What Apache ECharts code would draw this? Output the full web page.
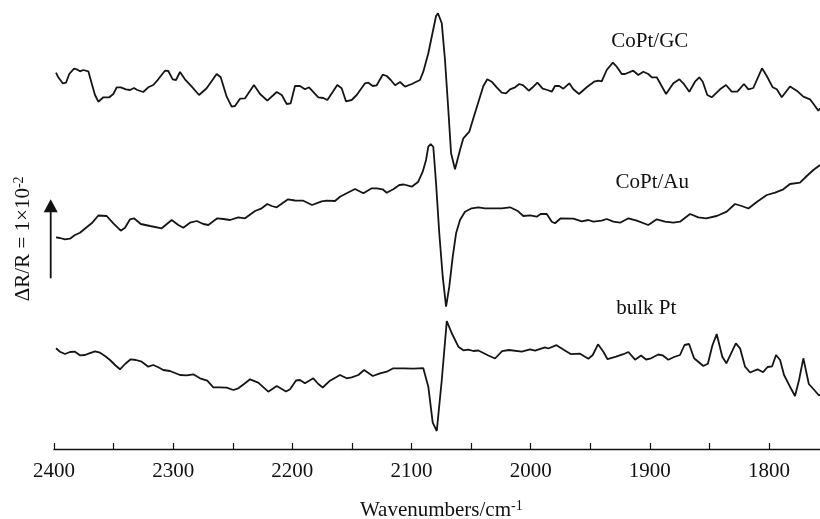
<!DOCTYPE html>
<html>
<head>
<meta charset="utf-8">
<script src="https://cdn.jsdelivr.net/npm/echarts@6/dist/echarts.min.js"></script>
<style>
html, body { margin: 0; padding: 0; background: #fff; }
#chart { width: 820px; height: 519px; }
</style>
</head>
<body>
<div id="chart"></div>
<script>
// spectra: [wavenumber / cm-1, offset signal (a.u.)]
var coptGC = [[2398.3,376.3],[2396.4,371.7],[2392.7,365.7],[2389.9,366.3],[2387.2,375],[2383.2,380.3],[2381,379.7],[2378.2,377.7],[2375.4,379],[2371.2,377.7],[2368.4,365.7],[2365.6,354],[2362.8,347.3],[2358.6,351.7],[2353.6,351.7],[2350.2,355],[2347.4,361.7],[2344,361.7],[2339.6,359.7],[2336.2,359],[2332.9,361],[2330.1,359],[2325.1,357],[2320.9,361.7],[2316.7,364],[2312.5,369.7],[2306.9,378.3],[2304.1,378],[2300.4,369.7],[2297.6,369],[2294.3,377],[2290.1,369.7],[2284.4,362.3],[2278.3,354],[2271.9,360.7],[2263.5,375],[2260.1,371.7],[2255.1,352.3],[2250.9,342.3],[2248.1,343],[2243.9,350.3],[2239.7,350.7],[2232.2,364],[2227.1,355],[2221,348.3],[2213.1,357],[2208.9,354],[2204.7,345],[2201.4,345.7],[2197.8,363],[2193.6,363],[2189.4,359.7],[2186,361.7],[2178.2,351.7],[2174,351],[2170.6,349],[2162.3,364],[2158.6,360.7],[2155,347.7],[2150.2,349],[2146,354],[2139,365.7],[2136.2,366.3],[2132.5,363],[2129.2,363.7],[2124.2,374.3],[2120.8,373],[2117.4,369],[2113.8,363.7],[2109.6,367],[2105.4,362.3],[2099.8,365],[2092.9,369],[2090.1,377.3],[2085.9,395.7],[2082.2,417],[2079.4,433],[2077.8,435.7],[2074.6,425.7],[2071.9,389],[2069.1,339],[2066.8,295.7],[2063.5,279.7],[2059.3,299],[2056.5,310.7],[2051.5,317.3],[2048.1,330.7],[2042.5,352.3],[2039.7,363],[2036.4,369.7],[2032.7,367.3],[2028.5,361.7],[2024.3,356.3],[2020.7,355.7],[2017.3,359.7],[2013.1,361.7],[2009.5,365],[2006.2,363.7],[2001.6,358.3],[1998.3,361.7],[1994.4,366.3],[1989.9,360.3],[1986,359],[1982.3,357.3],[1979.6,363],[1976,363],[1972.6,360.3],[1967.6,365.7],[1964.2,359.7],[1959.4,355],[1953,361.7],[1946.8,367.3],[1943.2,368.3],[1940.4,367.7],[1936.2,379],[1931.1,386.3],[1927.8,382.3],[1923.6,375],[1920.8,375],[1913.9,378.3],[1909.7,374],[1905.5,377.3],[1901.3,375],[1898.4,371.7],[1894.2,371.7],[1886.4,355],[1880.3,365.7],[1875.2,369.7],[1871.9,365.7],[1866.9,357.3],[1862.1,367.3],[1858.5,371.7],[1855.6,367.3],[1851.8,354],[1848.1,351.7],[1841.1,359.7],[1836.1,364],[1831.3,357.3],[1826.6,357.3],[1821,365],[1817.3,359.7],[1813.2,361],[1805.9,380.7],[1801.9,373],[1796.9,361.7],[1793.5,359.7],[1789.3,351.7],[1782.4,362.5],[1776.7,358.3],[1771.2,352.3],[1765.6,349.7],[1761.4,343],[1758.6,338.3],[1757.2,340.7]];

var coptAu = [[2398.3,211.7],[2395,211],[2390.8,209.7],[2386.6,210.3],[2382.4,214],[2378.2,216.3],[2372.6,221.7],[2368.4,225.7],[2362.8,233.5],[2355.8,233],[2350.2,225.7],[2344,218.3],[2340.4,221.3],[2336.2,229.7],[2332.9,230.7],[2327.2,225],[2319.4,223],[2309.6,220.7],[2301.2,229],[2295.7,224],[2291.5,221.3],[2285.9,226.3],[2280.2,228],[2274.7,225],[2270.5,224],[2263,230.7],[2257.9,230],[2252.3,229],[2245.3,231.7],[2239.7,230.7],[2231.3,238],[2225.7,240.7],[2221,245],[2217.3,243],[2213.1,241.7],[2203.6,249.7],[2197.8,248.5],[2190.8,248.3],[2183.5,244],[2175.4,247.7],[2171.2,248.3],[2164.2,248],[2160,252.3],[2154.4,255.7],[2147.4,260],[2140.4,255.7],[2133.4,260.7],[2129.2,260.7],[2124.2,259.7],[2120.8,256.3],[2115.3,259.7],[2110.2,264],[2106.3,264.5],[2099.8,262.3],[2094.3,267.3],[2090.6,277.3],[2087.8,289],[2085.9,302.3],[2083.9,305],[2081.7,302],[2079.4,265.7],[2076.7,215.7],[2073.8,172.3],[2071,142.3],[2068.3,162.3],[2065.4,192.3],[2062.6,215.7],[2059.3,229],[2055.1,237.3],[2049.5,240.7],[2043.9,241.7],[2038.3,240.7],[2031.3,240.7],[2024.3,240.7],[2017.3,241.7],[2011.2,238.3],[2006.2,233],[2000.5,233.7],[1994.9,232.3],[1991.6,235],[1986.5,235],[1982.3,227.3],[1979.6,225.7],[1974.8,230.7],[1964.2,230.3],[1957.2,227.7],[1951.6,229],[1947.4,227.3],[1940.4,228.3],[1936.2,230],[1930.6,227.3],[1925,226.3],[1918,230.7],[1911,228.3],[1901.3,224],[1894.2,229.7],[1887.3,227.3],[1880.3,226.3],[1874.7,227.3],[1866.3,235],[1859.3,231.7],[1852.8,230.7],[1843.9,233],[1835.5,237.3],[1828.5,245],[1822.9,243],[1817.3,240.5],[1810,247.3],[1801.9,254],[1794.9,256.3],[1788,259.7],[1782.4,265],[1774,266.3],[1768.3,273],[1762.8,279],[1757.2,284]];

var bulkPt = [[2398.3,100.7],[2395,97.3],[2390.8,95],[2386.6,97],[2382.4,97.3],[2378.2,93.7],[2374,94],[2370.4,95.7],[2365.6,97.7],[2361.4,96.3],[2357.2,93],[2353,89],[2348.8,84],[2344.6,79.7],[2340.4,85],[2335.6,89.7],[2331.2,89],[2326.4,87.3],[2320.9,82.3],[2316.7,84],[2312.5,81.7],[2308.3,79],[2302.7,78],[2294.3,74],[2288.6,73.7],[2283.1,74.7],[2277.5,70.7],[2271.4,68.3],[2266.3,61.7],[2260.7,61.7],[2255.1,61.3],[2249.5,59],[2245.3,60.7],[2239.7,65.7],[2235.5,69.7],[2228.6,66.3],[2220.2,57.3],[2213.1,63],[2205.3,57.5],[2201.9,59.7],[2196.9,68.5],[2193.6,69],[2189.4,65.7],[2182.4,70.7],[2178.2,65],[2174.5,61.5],[2168.4,68.3],[2160,74],[2154.4,70.7],[2150.2,71.7],[2144.6,74],[2139.8,79],[2132.5,73],[2126.4,75.7],[2120.8,77.3],[2115.3,80.7],[2106.9,80.7],[2098.5,80.3],[2090.1,80.8],[2085.9,62.3],[2082.2,26.3],[2078.8,18],[2074.6,69],[2070.4,127.8],[2066.3,116],[2060.7,102.3],[2056.5,98.7],[2052.3,99.3],[2048.1,98],[2043.9,98.5],[2035.5,93.5],[2029.9,90.5],[2024,97.8],[2018.2,99],[2007.5,97.3],[2000.5,99.7],[1996.3,98.3],[1988,101.7],[1985.2,100.5],[1978.3,103.8],[1972,99],[1966.1,94.8],[1958.6,95.3],[1951.6,90.3],[1947.9,94],[1943.5,104.7],[1939,97.3],[1935.5,89.8],[1928.4,92.3],[1922.2,94.8],[1918,97],[1912.4,89.3],[1907.4,93.5],[1903.2,89.5],[1899,90.7],[1892.9,94.5],[1889.3,93.7],[1884.5,89.3],[1879.7,92],[1874.7,94],[1870.9,104],[1867.1,105],[1862.9,90.7],[1855.1,83],[1851.3,85.3],[1847.6,103.2],[1843.9,115],[1839.2,92.3],[1835.8,85.7],[1827.8,105.7],[1824.3,100.7],[1820.1,82.3],[1815.9,76.5],[1809.6,79.7],[1805,76.8],[1801.2,82],[1797.4,82.7],[1794.1,94],[1790.7,89],[1787.4,74],[1782.4,62.3],[1778.2,53],[1774.8,69],[1771.2,90.7],[1766.6,65],[1762.4,59.5],[1758.4,54],[1757.2,54]];

var tickLabels = [2400, 2300, 2200, 2100, 2000, 1900, 1800];
var curveNames = ['CoPt/GC', 'CoPt/Au', 'bulk Pt'];
var curveLabelPos = [[1900, 408], [1898, 267], [1903, 141]];
var scaleBar = [170.7, 249.7]; // a.u. span equal to ΔR/R = 1×10^-2

var serif = "'Liberation Serif', 'Times New Roman', serif";
var myChart = echarts.init(document.getElementById('chart'));

function lineSeries(name, data) {
    return {
        name: name,
        type: 'line',
        data: data,
        showSymbol: false,
        symbol: 'none',
        clip: true,
        lineStyle: { color: '#151515', width: 1.8 },
        silent: true
    };
}

option = {
    backgroundColor: '#fff',
    animation: false,
    // the plot runs on past the right edge of the picture (axis ends at 1750)
    grid: { left: 54, width: 774.6, top: 0, bottom: 70, containLabel: false, outerBoundsMode: 'none' },
    xAxis: {
        type: 'value',
        inverse: true,
        min: 1750,
        max: 2400,
        interval: 50,
        name: '{a|Wavenumbers/cm}{s|-1}',
        nameLocation: 'middle',
        nameGap: 50,
        nameTextStyle: {
            rich: {
                a: { fontFamily: serif, fontSize: 21, color: '#111' },
                s: { fontFamily: serif, fontSize: 14, color: '#111', verticalAlign: 'top', padding: [0, 0, 8, 0] }
            }
        },
        axisLine: { lineStyle: { color: '#111', width: 1.3 } },
        axisTick: { inside: true, length: 6, lineStyle: { color: '#111', width: 1.2 } },
        axisLabel: {
            margin: 12,
            fontFamily: serif,
            fontSize: 21,
            color: '#111',
            formatter: function (v) { return tickLabels.indexOf(v) >= 0 ? String(v) : ''; }
        },
        splitLine: { show: false }
    },
    yAxis: {
        type: 'value',
        min: 0,
        max: 449,
        show: false
    },
    series: [
        lineSeries(curveNames[0], coptGC),
        lineSeries(curveNames[1], coptAu),
        lineSeries(curveNames[2], bulkPt)
    ]
};
myChart.setOption(option);

// curve labels, scale arrow and y label placed through the chart's scales
var graphics = [];
curveNames.forEach(function (n, i) {
    var p = myChart.convertToPixel({ gridIndex: 0 }, curveLabelPos[i]);
    graphics.push({
        type: 'text', x: p[0], y: p[1],
        style: { text: n, fontFamily: serif, fontSize: 21, fill: '#111', align: 'center', verticalAlign: 'middle' }
    });
});
var pb = myChart.convertToPixel({ gridIndex: 0 }, [2400, scaleBar[0]]);
var pt = myChart.convertToPixel({ gridIndex: 0 }, [2400, scaleBar[1]]);
var ax = pb[0] - 3.3;
graphics.push({
    type: 'line',
    shape: { x1: ax, y1: pb[1], x2: ax, y2: pt[1] + 10 },
    style: { stroke: '#111', lineWidth: 1.8 }
});
graphics.push({
    type: 'polygon',
    shape: { points: [[ax, pt[1]], [ax - 7, pt[1] + 13], [ax + 7, pt[1] + 13]] },
    style: { fill: '#111' }
});
graphics.push({
    type: 'text', x: 23, y: (pb[1] + pt[1]) / 2,
    rotation: Math.PI / 2,
    style: {
        text: '{a|ΔR/R = 1×10}{s|-2}',
        align: 'center', verticalAlign: 'middle',
        rich: {
            a: { fontFamily: serif, fontSize: 21, fill: '#111' },
            s: { fontFamily: serif, fontSize: 14, fill: '#111', verticalAlign: 'top', padding: [0, 0, 8, 0] }
        }
    }
});
myChart.setOption({ graphic: graphics });

window.addEventListener('resize', function () {
    myChart.resize();
});
</script>
</body>
</html>
